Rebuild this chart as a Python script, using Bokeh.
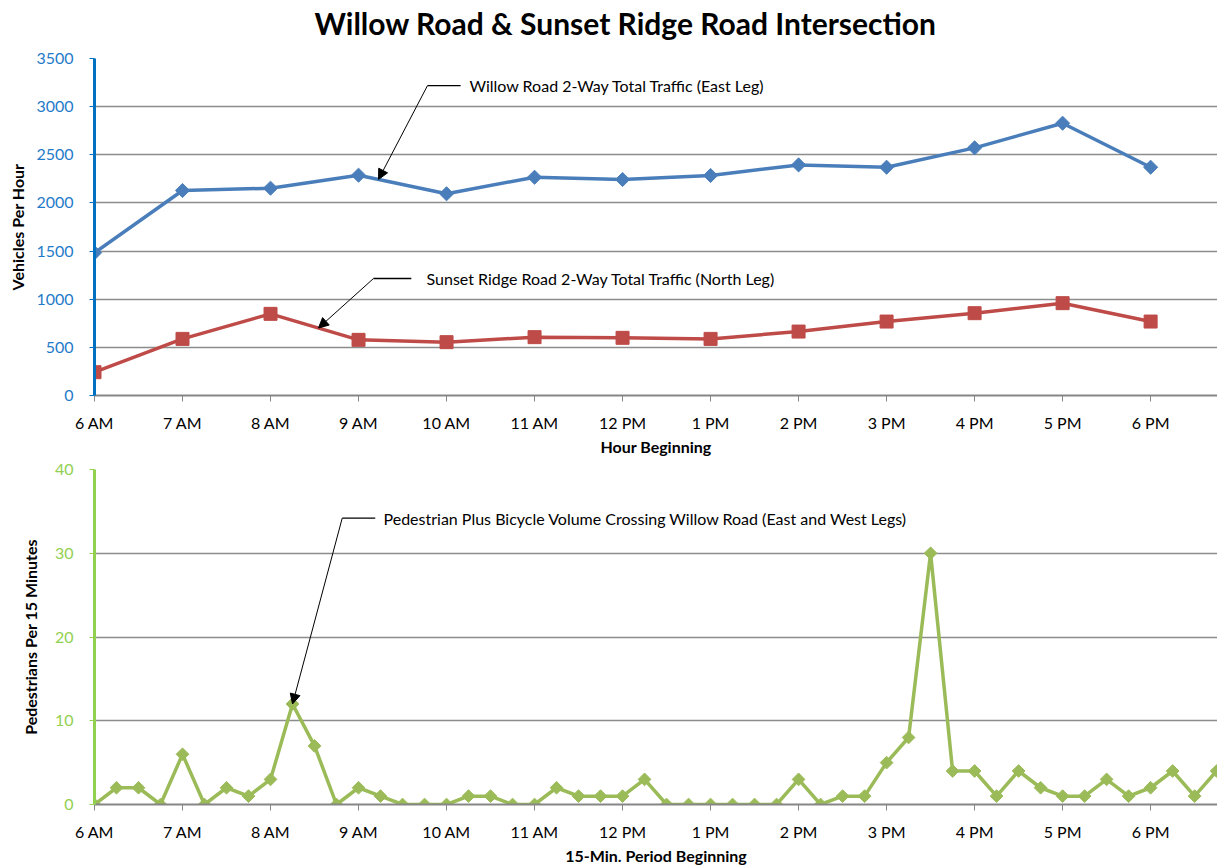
import numpy as np
from bokeh.plotting import figure
from bokeh.layouts import column
from bokeh.models import Range1d, FixedTicker, Arrow, NormalHead, Label
from bokeh.embed import file_html
from bokeh.resources import INLINE

# ---------------- data ----------------
hours = [6, 7, 8, 9, 10, 11, 12, 13, 14, 15, 16, 17, 18]
hour_labels = ["6 AM", "7 AM", "8 AM", "9 AM", "10 AM", "11 AM", "12 PM",
               "1 PM", "2 PM", "3 PM", "4 PM", "5 PM", "6 PM"]
willow = [1482, 2129, 2153, 2288, 2095, 2267, 2243, 2285, 2395, 2371, 2572, 2828, 2371]
sunset = [242, 588, 848, 578, 554, 606, 599, 588, 664, 768, 855, 959, 768]

ped = [0, 2, 2, 0,  6, 0, 2, 1,  3, 12, 7, 0,  2, 1, 0, 0,
       0, 1, 1, 0,  0, 2, 1, 1,  1, 3, 0, 0,  0, 0, 0, 0,
       3, 0, 1, 1,  5, 8, 30, 4,  4, 1, 4, 2,  1, 1, 3, 1,
       2, 4, 1, 4]
ped_start = [6 + i / 4 for i in range(len(ped))]   # 15-min period starts (hours)

top_yticks = [0, 500, 1000, 1500, 2000, 2500, 3000, 3500]
bot_yticks = [0, 10, 20, 30, 40]

TITLE = "Willow Road & Sunset Ridge Road Intersection"

# ---------------- style ----------------
FONT = "Lato"
BLUE = "#4A7EBB"
RED = "#BE4B48"
GREEN = "#9BBB59"
GRID = "#8C8C8C"
X_END = 18.76
W = 1217
LEFT = 94
TITLE_H = 40


def style_common(p):
    p.outline_line_color = None
    p.xgrid.visible = False
    p.ygrid.grid_line_color = GRID
    p.ygrid.grid_line_width = 1.4
    p.xaxis.ticker = FixedTicker(ticks=hours)
    p.xaxis.major_label_overrides = {h: l for h, l in zip(hours, hour_labels)}
    p.xaxis.axis_line_color = "#868686"
    p.xaxis.axis_line_width = 2
    p.xaxis.major_tick_line_color = "#868686"
    p.xaxis.major_tick_out = 6
    p.xaxis.major_tick_in = 0
    p.xaxis.minor_tick_line_color = None
    p.xaxis.major_label_text_font = FONT
    p.xaxis.major_label_text_font_size = "16px"
    p.xaxis.major_label_text_color = "black"
    p.xaxis.major_label_standoff = 11
    p.xaxis.axis_label_text_font = FONT
    p.xaxis.axis_label_text_font_style = "bold"
    p.xaxis.axis_label_text_font_size = "16px"
    p.xaxis.axis_label_text_color = "black"
    p.xaxis.axis_label_standoff = 2
    p.yaxis.major_tick_out = 5
    p.yaxis.major_tick_in = 0
    p.yaxis.minor_tick_line_color = None
    p.yaxis.axis_line_width = 3
    p.yaxis.major_label_text_font = FONT
    p.yaxis.major_label_text_font_size = "16px"
    p.yaxis.major_label_standoff = 16
    p.yaxis.axis_label_text_font = FONT
    p.yaxis.axis_label_text_font_style = "bold"
    p.yaxis.axis_label_text_font_size = "16px"
    p.yaxis.axis_label_text_color = "black"


def interp(xs, ys, x):
    return float(np.interp(x, xs, ys))


def callout(p, text, tx, ty, lead_end, ex, hx, hy):
    # horizontal leader from elbow (ex) to lead_end, then arrow from elbow to (hx, hy)
    p.add_layout(Arrow(end=None, x_start=ex, y_start=ty, x_end=lead_end, y_end=ty,
                       line_color="black", line_width=1.3))
    p.add_layout(Arrow(end=NormalHead(size=10, fill_color="black", line_color="black"),
                       x_start=ex, y_start=ty, x_end=hx, y_end=hy,
                       line_color="black", line_width=1))
    p.add_layout(Label(x=tx, y=ty, text=text, text_font=FONT, text_font_size="16px",
                       text_color="black", text_baseline="middle", text_align="left"))


# ---------------- title strip ----------------
tfig = figure(width=W, height=TITLE_H, x_range=Range1d(LEFT, W), y_range=Range1d(0, TITLE_H),
              output_backend="svg", toolbar_location=None, min_border=0,
              min_border_left=LEFT)
tfig.axis.visible = False
tfig.grid.visible = False
tfig.outline_line_color = None
tfig.add_layout(Label(x=625, y=TITLE_H - 22, text=TITLE, text_font=FONT,
                      text_font_style="bold", text_font_size="30px", text_color="black",
                      text_align="center", text_baseline="middle"))

# ---------------- top chart ----------------
top = figure(width=W, height=458 - TITLE_H, x_range=Range1d(6, X_END), y_range=Range1d(0, 3500),
             output_backend="svg", toolbar_location=None,
             min_border_left=LEFT, min_border_right=0, min_border_top=58 - TITLE_H,
             min_border_bottom=63)
style_common(top)
top.yaxis.ticker = FixedTicker(ticks=top_yticks)
top.yaxis.axis_line_color = "#0070C0"
top.yaxis.major_tick_line_color = "#0070C0"
top.yaxis.major_label_text_color = "#1F7BC9"
top.yaxis.axis_label = "Vehicles Per Hour"
top.yaxis.axis_label_standoff = 6
top.xaxis.axis_label = "Hour Beginning"

top.line(hours, willow, line_color=BLUE, line_width=3.5)
top.scatter(hours, willow, marker="square", angle=np.pi / 4, size=10,
            fill_color=BLUE, line_color=BLUE)
top.line(hours, sunset, line_color=RED, line_width=3.5)
top.scatter(hours, sunset, marker="square", size=13, fill_color=RED, line_color=RED)

hx1 = 9.227
callout(top, "Willow Road 2-Way Total Traffic (East Leg)", 10.26, 3219, 10.16, 9.784,
        hx1, interp(hours, willow, hx1))
hx2 = 8.545
callout(top, "Sunset Ridge Road 2-Way Total Traffic (North Leg)", 9.773, 1215, 9.60, 9.17,
        hx2, interp(hours, sunset, hx2))

# ---------------- bottom chart ----------------
bot = figure(width=W, height=409, x_range=Range1d(6, X_END), y_range=Range1d(0, 40),
             output_backend="svg", toolbar_location=None,
             min_border_left=LEFT, min_border_right=0, min_border_top=11, min_border_bottom=62)
style_common(bot)
bot.yaxis.ticker = FixedTicker(ticks=bot_yticks)
bot.yaxis.axis_line_color = "#92D050"
bot.yaxis.major_tick_line_color = "#92D050"
bot.yaxis.major_label_text_color = "#92D050"
bot.yaxis.axis_label = "Pedestrians Per 15 Minutes"
bot.yaxis.axis_label_standoff = 12
bot.xaxis.axis_label = "15-Min. Period Beginning"

bot.line(ped_start, ped, line_color=GREEN, line_width=3.5)
bot.scatter(ped_start, ped, marker="square", angle=np.pi / 4, size=9,
            fill_color=GREEN, line_color=GREEN)

i_pk = int(np.argmax(ped[:20]))
callout(bot, "Pedestrian Plus Bicycle Volume Crossing Willow Road (East and West Legs)",
        9.284, 34.2, 9.19, 8.815, ped_start[i_pk], ped[i_pk])

layout = column(tfig, top, bot, spacing=0)
open("out.html", "w").write(file_html(layout, INLINE))
